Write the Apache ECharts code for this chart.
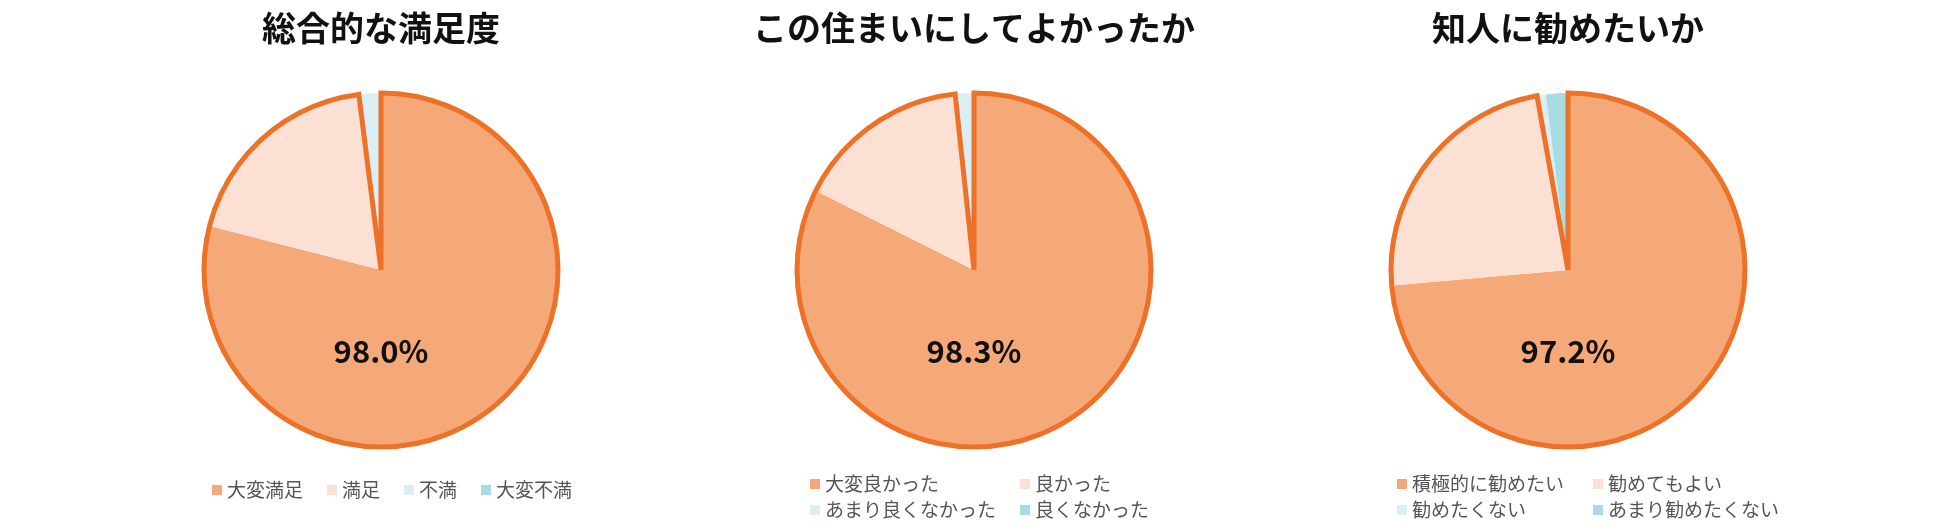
<!DOCTYPE html>
<html><head><meta charset="utf-8">
<script src="https://cdn.jsdelivr.net/npm/echarts@6/dist/echarts.min.js"></script>
<style>html,body{margin:0;padding:0;background:#fff}#c{width:1950px;height:522px}</style>
</head><body><div id="c"></div>
<script>
const titles1 = ['総合的な満足度', 'この住まいにしてよかったか', '知人に勧めたいか'];
const cats1 = ['大変満足', '満足', '不満', '大変不満'];
const vals1 = [79.0, 19.0, 2.0, 0];
const cats2 = ['大変良かった', '良かった', 'あまり良くなかった', '良くなかった'];
const vals2 = [82.4, 15.9, 1.7, 0];
const cats3 = ['積極的に勧めたい', '勧めてもよい', '勧めたくない', 'あまり勧めたくない'];
const vals3 = [73.6, 23.6, 0.8, 2.0];

const colors = ['#F5A878', '#FCE0D3', '#DAEFF3', '#A8DBE2'];
const borderColor = '#ED7127';
const FONT = '"Noto Sans CJK JP", "Noto Sans", sans-serif';
const centersX = [381, 974, 1568];
const centerY = 270;
const R = 177;
const allCats = [cats1, cats2, cats3];
const allVals = [vals1, vals2, vals3];

const chart = echarts.init(document.getElementById('c'), null, {renderer: 'canvas'});
const title = [], series = [], legend = [];
allCats.forEach((cats, i) => {
  const vals = allVals[i];
  const top2 = vals[0] + vals[1];
  title.push({
    text: titles1[i], left: centersX[i], top: 10, textAlign: 'center', padding: 0,
    textStyle: {fontFamily: FONT, fontSize: 34, fontWeight: 'bold', color: '#111', lineHeight: 36}
  });
  title.push({
    text: top2.toFixed(1) + '%', left: centersX[i], top: 335, textAlign: 'center', padding: 0,
    textStyle: {fontFamily: FONT, fontSize: 31, fontWeight: 600, color: '#111', lineHeight: 32}
  });
  series.push({
    type: 'pie', name: 'p' + i, center: [centersX[i], centerY], radius: [0, R],
    startAngle: 90, clockwise: true, label: {show: false}, labelLine: {show: false},
    silent: true, animation: false, legendHoverLink: false,
    itemStyle: {borderWidth: 0},
    data: cats.map((c, k) => ({name: c, value: vals[k], itemStyle: {color: colors[k]}}))
  });
  series.push({
    type: 'pie', name: 'o' + i, center: [centersX[i], centerY], radius: [0, R],
    startAngle: 90, clockwise: true, label: {show: false}, labelLine: {show: false},
    silent: true, animation: false, z: 3,
    data: [
      {name: '_a' + i, value: top2, itemStyle: {color: 'rgba(0,0,0,0)', borderColor: borderColor, borderWidth: 5, borderJoin: 'miter'}},
      {name: '_b' + i, value: 100 - top2, itemStyle: {color: 'rgba(0,0,0,0)', borderWidth: 0}}
    ]
  });
});
const legBase = {
  orient: 'horizontal', itemWidth: 10, itemHeight: 10, icon: 'rect', selectedMode: false,
  textStyle: {fontFamily: FONT, fontSize: 19, color: '#555555', lineHeight: 26}, padding: 0
};
legend.push(Object.assign({}, legBase, {
  left: 212, top: 477, itemGap: 24, data: cats1,
  textStyle: Object.assign({}, legBase.textStyle)
}));
legend.push(Object.assign({}, legBase, {
  left: 810, top: 471, itemGap: 0, width: 420, data: cats2,
  textStyle: Object.assign({}, legBase.textStyle, {width: 195})
}));
legend.push(Object.assign({}, legBase, {
  left: 1397, top: 471, itemGap: 0, width: 400, data: cats3,
  textStyle: Object.assign({}, legBase.textStyle, {width: 181})
}));
chart.setOption({animation: false, color: colors, title, legend, series});
</script></body></html>
